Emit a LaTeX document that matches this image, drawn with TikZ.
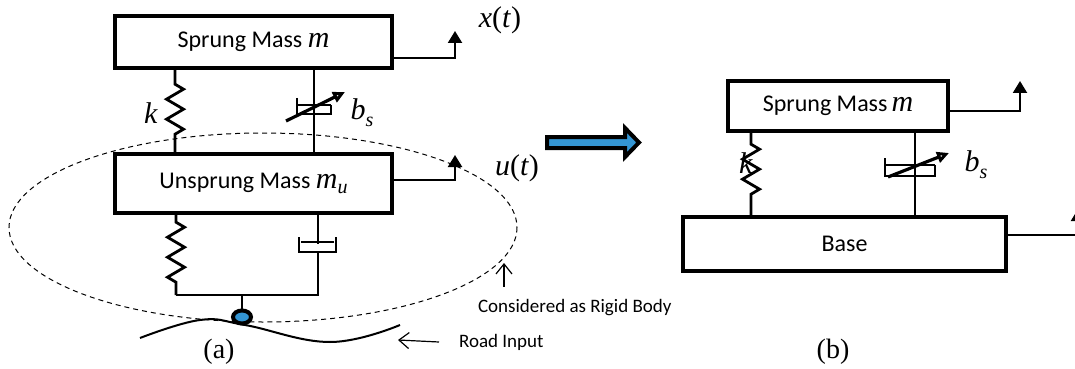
\documentclass[tikz,border=0pt]{standalone}
\usepackage{fontspec}
\setmainfont{Carlito}
\newfontfamily\tms{Liberation Serif}
\usetikzlibrary{arrows.meta,decorations.pathmorphing,shapes.geometric}
\definecolor{wheelblue}{RGB}{52,150,212}

\begin{document}
\begin{tikzpicture}[x=0.5pt,y=-0.5pt,
  mass/.style={draw,fill=white,line width=2.2pt,inner sep=0pt,font=\fontsize{12}{14}\selectfont},
  spring/.style={line width=1.4pt,decorate,decoration={zigzag,segment length=10pt,amplitude=4.25pt,#1}},
  rod/.style={line width=1.1pt},
  sig/.style={line width=1.1pt,-{Triangle[length=6pt,width=7pt]}},
  vardamp/.style={line width=1.6pt,-{Triangle[open,length=6pt,width=5.5pt]}},
  barb/.style={line width=0.6pt,-{Straight Barb[length=5pt,width=8pt]}},
  lab/.style={font=\tms\fontsize{15}{15}\selectfont},
  note/.style={font=\fontsize{9.5}{11}\selectfont},
  caplab/.style={font=\tms\fontsize{14}{14}\selectfont}]
\newcommand{\mth}[1]{{\tms\itshape\fontsize{15}{15}\selectfont #1}}
\newcommand{\msub}[1]{\raisebox{-0.5ex}{\tms\itshape\fontsize{10}{10}\selectfont #1}}

\useasboundingbox (0,0) rectangle (1075,369);
\draw[dashed,dash pattern=on 2.5pt off 2pt,line width=0.5pt] (263,227.5) ellipse [x radius=254,y radius=94.5];
\node[mass,minimum width=138.5pt,minimum height=26pt] (sma) at (253.5,42) {Sprung Mass \mth{m}};
\node[mass,minimum width=138.5pt,minimum height=29.5pt] (uma) at (253.5,183.5) {Unsprung Mass \mth{m}\msub{u}};
\node[mass,minimum width=110pt,minimum height=25pt] (smb) at (838,106) {Sprung Mass\,\mth{m}};
\node[mass,minimum width=161.5pt,minimum height=27pt] (base) at (844.5,244) {Base};

\coordinate (ka) at (175,0);
\coordinate (da) at (314,0);
\coordinate (bl) at (176,295);
\coordinate (br) at (318,295);
\coordinate (wh) at (242,295);
\coordinate (kb) at (751,0);
\coordinate (db) at (915,0);
\coordinate (xa) at (455,31);
\coordinate (ua) at (455,155);
\coordinate (xb) at (1020,81);
\coordinate (xc) at (1078,209);
\coordinate (rt) at (504,263);
\coordinate (rdt) at (398,340);

\draw[spring={pre length=7pt,post length=5.5pt}] (sma.south -| ka) -- (uma.north -| ka);
\draw[spring={pre length=3.5pt,post length=6pt}] (uma.south -| bl) -- (bl);
\draw[spring={pre length=5.5pt,post length=6pt}] (smb.south -| kb) -- (base.north -| kb);

\draw[rod] (sma.south -| da) -- (uma.north -| da);
\draw[rod] (297,98) -- (297,114) -- (331,114) -- (331,105) (297,105) -- (331,105);
\draw[vardamp] (286,121) -- (345,92);
\draw[rod] (uma.south -| br) -- ++(0,29);
\draw[rod] (bl) -- (br) -- ++(0,-43);
\draw[rod] (299,237) -- (299,253) (336,237) -- (336,253) (299,252) -- (336,252) (301,242) -- (334,242);
\draw[rod] (smb.south -| db) -- (base.north -| db);
\draw[rod] (885,158) -- (885,176) -- (935,176) -- (935,165) (885,165) -- (935,165);
\draw[vardamp] (888,177) -- (949,153);

\draw[line width=1pt] plot[smooth,tension=0.7] coordinates {(140,338) (200,320) (245,325) (330,342) (400,325)};
\node[ellipse,draw,line width=2pt,fill=wheelblue,minimum width=9pt,minimum height=6.5pt,inner sep=0pt] (wheel) at (242,317) {};
\draw[rod] (wh) -- (wheel);

\draw[sig] ([yshift=-8pt]sma.east) -| (xa);
\draw[sig] ([yshift=1.75pt]uma.east) -| (ua);
\draw[sig] ([yshift=-2.5pt]smb.east) -| (xb);
\draw[sig] ([yshift=4.5pt]base.east) -| (xc);

\draw[line width=2pt,fill=wheelblue] (547,137) -- (625,137) -- (625,128) -- (639,142.5) -- (625,157) -- (625,148) -- (547,148) -- cycle;

\node[lab] (xlab) at (500,20) {\textit{x}(\textit{t})};
\node[lab] (ulab) at (517,168) {\textit{u}(\textit{t})};
\node[lab] (kla) at (151,113) {\textit{k}};
\node[lab] (bsa) at (362,113) {\textit{b}\msub{s}};
\node[lab] (klb) at (746,163) {\textit{k}};
\node[lab] (bsb) at (976,165) {\textit{b}\msub{s}};
\node[note,anchor=west] (rig) at (471,308) {Considered as Rigid Body};
\node[note,anchor=west] (road) at (452,342) {Road Input};
\draw[barb] ([xshift=16.5pt,yshift=3pt]rig.north west) -- (rt);
\draw[barb] ([xshift=-6.5pt]road.west) -- (rdt);
\node[caplab] (capa) at (219,352) {(a)};
\node[caplab] (capb) at (833,352) {(b)};
\end{tikzpicture}
\end{document}
